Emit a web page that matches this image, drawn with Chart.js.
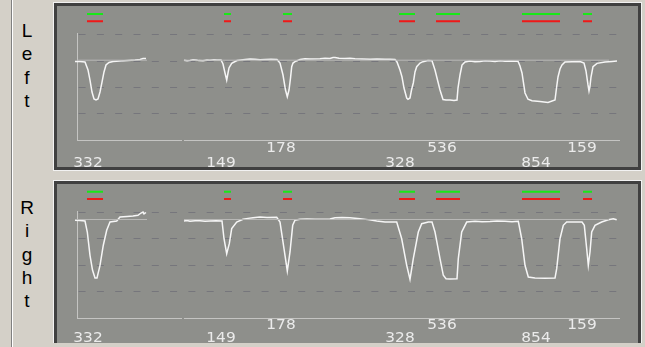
<!DOCTYPE html>
<html><head><meta charset="utf-8">
<script src="https://cdn.jsdelivr.net/npm/chart.js@4.4.1/dist/chart.umd.min.js"></script>
<style>
html,body{margin:0;padding:0;background:#d4d0c8;width:645px;height:347px;overflow:hidden;position:relative;font-family:"Liberation Sans",Arial,sans-serif;}
.vl{position:absolute;left:11px;top:0;width:1px;height:347px;background:#808080;border-right:1px solid #ffffff;}
.side{position:absolute;left:17px;width:20px;font-size:19px;line-height:23.4px;text-align:center;color:#000;}
.side span{display:block;}
.panel{position:absolute;left:53px;width:587px;border:1px solid #f2f2f2;}
.panel .in{position:absolute;left:0;top:0;right:0;bottom:0;border:3px solid #404040;background:#8e8f8b;}
.panel.cut{border-bottom:none;}
.panel.cut .in{border-bottom:none;}
canvas{position:absolute;}
</style></head>
<body>
<div class="vl"></div>
<div class="side" style="top:18.7px"><span>L</span><span>e</span><span>f</span><span>t</span></div>
<div class="side" style="top:195.7px"><span>R</span><span>i</span><span>g</span><span>h</span><span>t</span></div>
<div class="panel" style="top:2px;height:167px"><div class="in"></div></div>
<div class="panel cut" style="top:180px;height:162px"><div class="in"></div></div>
<canvas id="c1" width="581" height="161" style="left:57px;top:6px"></canvas>
<canvas id="c2" width="581" height="159" style="left:57px;top:184px"></canvas>
<script>
// ---- data (x: time units, y: signal units) ----
const eventStart = [10,147,206,322,359,445,506];
const eventEnd   = [26,154,215,338,383,483,515];
const eventLabel = ['332','149','178','328','536','854','159'];
const labelX     = [11,144,204,323,365,459,505];
const labelRow   = ['low','low','up','low','up','low','up'];
const recordSegments = [[0,105],[107,543]];
const baselineSegments = [[0,70],[107,532]];
const leftBaseline = 76;
const rightBaseline = 93.5;
const greenLevel = 120;
const redLevel = 113;
const axisTop = 102;

const leftTrace1 = [[-2,74.8],[3,74.8],[8,74.3],[11,66.7],[13,57.1],[15,45.7],[17,39],[19,38.1],[21,39],[23,45.7],[25,55.2],[27,64.8],[29,71.4],[32,73.8],[36,74.8],[43,75.2],[51,75.7],[58,76.2],[63,76.7],[66,77.6],[69,77.6]];
const leftTrace2 = [[107,75.9],[110,75.4],[113,75.7],[116,76.4],[119,76.2],[122,75.6],[126,75.5],[130,76.1],[133,75.9],[137,76.4],[140,76.2],[144,76.2],[146,72.4],[148,63.8],[149.7,57.1],[151,63.8],[152,68.6],[154.7,73],[160,75.7],[164,76.3],[168,76.7],[173,77.2],[178,76.9],[183,76.5],[188,76.7],[194,77],[200,76.7],[203,73.3],[206,61.9],[208.5,47.6],[210.3,41.2],[212,47.6],[213.5,59],[214.7,69.8],[216,73.3],[218,74.6],[223,76.7],[228,77.3],[233,77.1],[243,77.4],[248,77.9],[253,77.6],[256,78.6],[258,78.6],[262,77.8],[268,77.6],[273,77.9],[278,77.4],[285,77.1],[293,76.9],[300,77.2],[308,76.9],[313,76.8],[318,76.7],[320,74.3],[323,66.7],[325,60],[327,49.5],[329.7,40],[331,38.8],[333,40],[334.5,47.6],[336.3,54.3],[338,64.8],[339.7,69.8],[343,73.3],[346,74.6],[351,75.7],[355,75.5],[358,66.7],[360,59],[363,47.6],[366,38.6],[369,38.1],[373,38.1],[377,37.6],[380,38.1],[381,49.5],[383,61.9],[385,71.4],[388,74.3],[393,75.2],[398,74.6],[403,74.8],[408,75.4],[413,75.2],[418,74.7],[423,75.5],[428,75.1],[433,75.2],[441,75],[443,70.5],[445,63.8],[448,44.8],[451,38.8],[455,37.4],[463,36.7],[471,35.7],[478,38.1],[479.5,49.5],[481,60],[483,67.6],[485,71.4],[488,74.3],[495,74.6],[503,74.8],[507,73.3],[509,65.7],[511,52.4],[512,46.7],[513,51.4],[514,60],[516,69.8],[520,73],[528,74.3],[535,74.8],[540,75.2]];

const rightTrace1 = [[-2,92.8],[3,92.6],[8,92.1],[10.3,81.6],[13,59.4],[15.5,45.4],[18,37.8],[20,37.8],[23,49.9],[26.3,69],[29.7,83.2],[33,91.1],[39.7,92.1],[43,95.9],[50,96.4],[56,96.9],[61,97.5],[64,99.7],[66,100.7],[67,98.8],[69,100.2]];
const rightTrace2 = [[107,92.1],[110,92.5],[113,91.8],[118,92.4],[123,92.4],[128,91.9],[133,92.1],[139,92.4],[145,92.1],[147,75.2],[149.7,61],[152.3,70.5],[154.7,84.8],[159.7,91.1],[166,93.7],[171,94.6],[176,95.2],[183,95.9],[190,95.5],[199.7,95.6],[203,91.1],[207,65.7],[210.3,44.5],[213,62.6],[215.7,88],[218,92.8],[223,93.7],[230,93.9],[238,93.7],[245,93.8],[253,94],[258,95.2],[265,95.4],[273,95.2],[283,94.3],[291,93.4],[299.7,92.1],[308,91.1],[316,91.1],[319.7,91.1],[324.7,75.2],[329.7,49.9],[333,36.6],[336.3,56.2],[341.3,81.6],[344.7,89.5],[351.3,91.1],[355,91.1],[358,81.6],[363,56.2],[366.3,40.4],[369,37.1],[373,36.9],[380,37.1],[381.3,56.2],[384.7,81.6],[389.7,91.1],[398,91.8],[405,91.4],[413,91.6],[420,92],[428,91.8],[435,91.5],[441.3,91.8],[444.7,75.2],[448,49.9],[451.3,38.8],[458,37.8],[468,37.5],[478,37.8],[479.7,46.7],[483,75.2],[486.3,88],[489.7,91.1],[498,91.1],[505,91.1],[507.3,88],[509.7,65.7],[511.3,49.9],[513,62.6],[514.7,81.6],[518,88],[524.7,91.1],[531.3,93.3],[536.3,94.3],[539.7,93.3]];

// ---- helpers ----
function pts(a){return a.map(p=>({x:p[0],y:p[1]}));}
function traceData(s1,s2){return [...pts(s1),{x:(s1[s1.length-1][0]+s2[0][0])/2,y:null},...pts(s2)];}
function markData(level){const d=[];eventStart.forEach((s,i)=>{d.push({x:s,y:level},{x:eventEnd[i],y:level},{x:eventEnd[i],y:null});});return d;}
function baseData(level){const d=[];baselineSegments.forEach(([a,b])=>{d.push({x:a,y:level},{x:b,y:level},{x:b,y:null});});return d;}

const deco = {
  id:'deco',
  beforeDatasetsDraw(chart){
    const {ctx, scales:{x,y}} = chart;
    ctx.save();
    ctx.strokeStyle='#c4c4c2'; ctx.lineWidth=1;
    const y0 = Math.round(y.getPixelForValue(0))+0.5;
    const x0 = Math.round(x.getPixelForValue(0))+0.5;
    ctx.beginPath();
    ctx.moveTo(x0,y0); ctx.lineTo(x0,Math.round(y.getPixelForValue(axisTop)));
    recordSegments.forEach(([a,b])=>{ctx.moveTo(x.getPixelForValue(a),y0);ctx.lineTo(x.getPixelForValue(b),y0);});
    ctx.stroke();
    ctx.restore();
  },
  afterDatasetsDraw(chart,args,opts){
    const {ctx, scales:{x,y}} = chart;
    const y0 = y.getPixelForValue(0);
    ctx.save();
    ctx.fillStyle='#ebebeb';
    ctx.font='14px "DejaVu Sans"';
    ctx.textAlign='center'; ctx.textBaseline='alphabetic';
    eventLabel.forEach((t,i)=>{
      const px = x.getPixelForValue(labelX[i]);
      const py = y0 + (labelRow[i]==='up'?opts.up:opts.low);
      ctx.save(); ctx.translate(px,py); ctx.scale(1.1,1); ctx.fillText(t,0,0); ctx.restore();
    });
    ctx.restore();
  }
};

function makePanel(id, t1, t2, base, pad, lowOff){
  return new Chart(document.getElementById(id),{
    type:'line',
    data:{datasets:[
      {data:baseData(base),borderColor:'#b9b9b7',borderWidth:1,pointRadius:0,spanGaps:false},
      {data:traceData(t1,t2),borderColor:'#f6f6f6',borderWidth:1.5,pointRadius:0,spanGaps:false,clip:false},
      {data:markData(greenLevel),borderColor:'#18e818',borderWidth:2,pointRadius:0,spanGaps:false},
      {data:markData(redLevel),borderColor:'#f01818',borderWidth:2,pointRadius:0,spanGaps:false}
    ]},
    options:{
      responsive:false,maintainAspectRatio:false,animation:false,
      layout:{padding:pad},
      plugins:{legend:{display:false},tooltip:{enabled:false},deco:{up:11.5,low:lowOff}},
      elements:{line:{tension:0}},
      scales:{
        x:{type:'linear',min:0,max:543,display:false},
        y:{type:'linear',min:0,max:125,
           ticks:{display:false,stepSize:25},
           grid:{drawTicks:false,color:c=>([25,50,75,100].includes(c.tick.value)?'#76767c':'rgba(0,0,0,0)'),lineWidth:1},
           border:{display:false,dash:[7,11.3],dashOffset:16.7},
           afterFit:s=>{s.width=0;}}
      }
    },
    plugins:[deco]
  });
}
makePanel('c1', leftTrace1, leftTrace2, leftBaseline, {left:20,right:18,top:2.75,bottom:27}, 26.5);
makePanel('c2', rightTrace1, rightTrace2, rightBaseline, {left:20,right:18,top:2.45,bottom:25.3}, 24.5);
</script>
</body></html>
